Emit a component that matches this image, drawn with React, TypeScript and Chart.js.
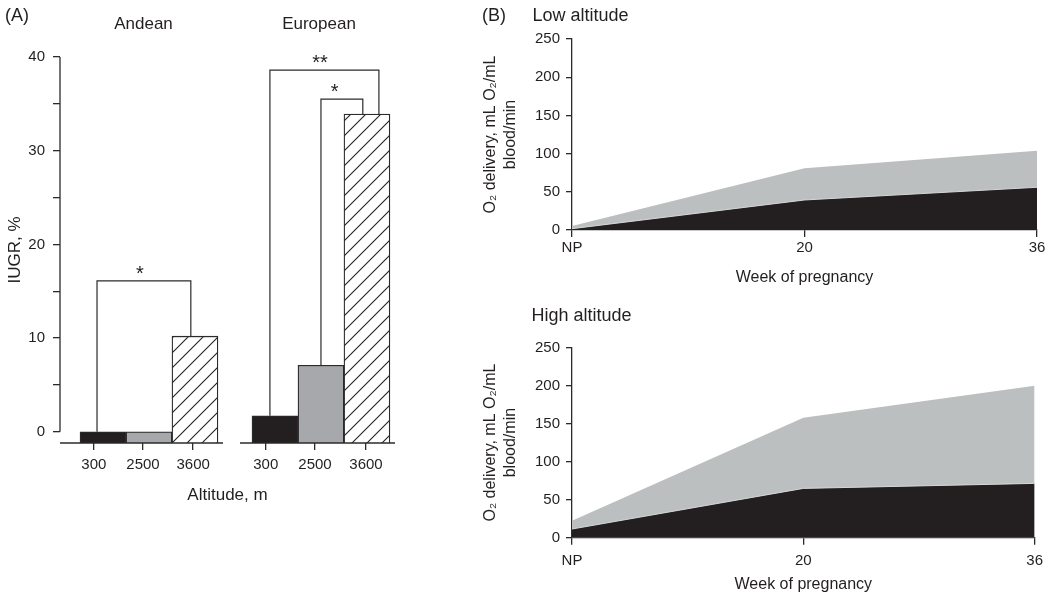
import React, { useEffect, useRef } from 'react';
import { Chart, registerables } from 'chart.js';

Chart.register(...registerables);

const FONT = '"Liberation Sans", Arial, Helvetica, sans-serif';
const TEXT = '#231f20';
const AXIS = '#2b2b2b';
const DARK = '#231f20';
const MID = '#a6a8ab';
const LIGHT = '#bcbfbf';

// ---------- Panel A data ----------
const ALTITUDES = ['300', '2500', '3600'];
const IUGR_ANDEAN = [0, 0, 10.2];
const IUGR_EUROPEAN = [1.7, 7.1, 33.9];
const BAR_POS_ANDEAN = [1, 2, 3];
const BAR_POS_EUROPEAN = [4.74, 5.74, 6.74];
const ALT_TICK_POS = [0.8, 1.87, 2.96, 4.54, 5.61, 6.72];
const ALT_TICK_LABELS = [...ALTITUDES, ...ALTITUDES];
const IUGR_TICKS = [0, 5, 10, 15, 20, 25, 30, 35, 40];
const IUGR_MIN = -1.2;
const IUGR_MAX = 40;
const X_SEGMENTS: [number, number][] = [
  [0.065, 3.61],
  [3.98, 7.35],
];
const BRACKETS = [
  { x1: 0.87, x2: 2.91, from: IUGR_ANDEAN[0], to: IUGR_ANDEAN[2], h: 16.1, label: '*', labelX: 1.8 },
  { x1: 4.63, x2: 7.0, from: IUGR_EUROPEAN[0], to: IUGR_EUROPEAN[2], h: 38.6, label: '**', labelX: 5.72 },
  { x1: 5.74, x2: 6.65, from: IUGR_EUROPEAN[1], to: IUGR_EUROPEAN[2], h: 35.5, label: '*', labelX: 6.04 },
];

// ---------- Panel B data ----------
const WEEKS = ['NP', '20', '36'];
const O2_TICKS_MAX = 250;
const LOW_DARK = [1.7, 39.3, 55.9];
const LOW_LIGHT = [5.2, 80.7, 103.8];
const HIGH_DARK = [11.4, 64.8, 71.4];
const HIGH_LIGHT = [22.3, 157.6, 199.6];

Chart.defaults.font.family = FONT;
Chart.defaults.color = TEXT;

function makeHatch(): CanvasPattern | string {
  const c = document.createElement('canvas');
  c.width = 15;
  c.height = 15;
  const g = c.getContext('2d');
  if (!g) return '#fff';
  g.fillStyle = '#ffffff';
  g.fillRect(0, 0, 15, 15);
  g.strokeStyle = '#222';
  g.lineWidth = 1.1;
  g.beginPath();
  g.moveTo(0, 15);
  g.lineTo(15, 0);
  g.moveTo(-2, 2);
  g.lineTo(2, -2);
  g.moveTo(13, 17);
  g.lineTo(17, 13);
  g.stroke();
  const p = g.createPattern(c, 'repeat');
  return p || '#fff';
}

const panelAPlugin = {
  id: 'panelAExtras',
  afterDatasetsDraw(chart: any) {
    const { ctx, chartArea, scales } = chart;
    const x = scales.x;
    const y = scales.y;
    ctx.save();
    ctx.strokeStyle = AXIS;
    ctx.lineWidth = 1.3;
    // y axis line spanning tick range
    ctx.beginPath();
    ctx.moveTo(chartArea.left, y.getPixelForValue(IUGR_TICKS[0]));
    ctx.lineTo(chartArea.left, y.getPixelForValue(IUGR_TICKS[IUGR_TICKS.length - 1]));
    ctx.stroke();
    // x axis segments
    for (const [a, b] of X_SEGMENTS) {
      ctx.beginPath();
      ctx.moveTo(x.getPixelForValue(a), chartArea.bottom);
      ctx.lineTo(x.getPixelForValue(b), chartArea.bottom);
      ctx.stroke();
    }
    // significance brackets
    ctx.lineWidth = 1.2;
    for (const b of BRACKETS) {
      const xl = x.getPixelForValue(b.x1);
      const xr = x.getPixelForValue(b.x2);
      const yt = y.getPixelForValue(b.h);
      ctx.beginPath();
      ctx.moveTo(xl, y.getPixelForValue(b.from));
      ctx.lineTo(xl, yt);
      ctx.lineTo(xr, yt);
      ctx.lineTo(xr, y.getPixelForValue(b.to));
      ctx.stroke();
      ctx.fillStyle = TEXT;
      ctx.font = `20px ${FONT}`;
      ctx.textAlign = 'center';
      ctx.textBaseline = 'alphabetic';
      ctx.fillText(b.label, x.getPixelForValue(b.labelX), yt - 1);
    }
    ctx.restore();
  },
};

function PanelA() {
  const ref = useRef<HTMLCanvasElement | null>(null);
  useEffect(() => {
    if (!ref.current) return;
    const hatch = makeHatch();
    const positions = [...BAR_POS_ANDEAN, ...BAR_POS_EUROPEAN];
    const values = [...IUGR_ANDEAN, ...IUGR_EUROPEAN];
    const chart = new Chart(ref.current, {
      type: 'bar',
      data: {
        datasets: [
          {
            data: positions.map((p, i) => ({ x: p, y: values[i] })),
            backgroundColor: [DARK, MID, hatch, DARK, MID, hatch] as any,
            borderColor: AXIS,
            borderWidth: 1.3,
            base: IUGR_MIN,
            barPercentage: 1,
            categoryPercentage: 1,
          } as any,
        ],
      },
      options: {
        responsive: false,
        animation: false,
        events: [],
        layout: { padding: { left: 0, top: 57, right: 25, bottom: 0 } },
        plugins: { legend: { display: false }, tooltip: { enabled: false }, title: { display: false } },
        scales: {
          x: {
            type: 'linear',
            min: 0.065,
            max: 7.35,
            offset: false,
            afterBuildTicks: (s: any) => {
              s.ticks = ALT_TICK_POS.map((v) => ({ value: v }));
            },
            afterFit: (s: any) => {
              s.height = 67;
            },
            ticks: {
              autoSkip: false,
              maxRotation: 0,
              padding: 6,
              color: TEXT,
              font: { size: 15 },
              callback: (_v: any, i: number) => ALT_TICK_LABELS[i],
            },
            grid: { offset: false, drawOnChartArea: false, drawTicks: true, tickLength: 7, color: AXIS, lineWidth: 1.3 },
            border: { display: false },
            title: { display: true, text: 'Altitude, m', color: TEXT, font: { size: 17 }, padding: { top: 0, bottom: 4.8 } },
          } as any,
          y: {
            min: IUGR_MIN,
            max: IUGR_MAX,
            afterBuildTicks: (s: any) => {
              s.ticks = IUGR_TICKS.map((v) => ({ value: v }));
            },
            afterFit: (s: any) => {
              s.width = 60;
            },
            ticks: {
              autoSkip: false,
              padding: 8,
              color: TEXT,
              font: { size: 15 },
              callback: (v: any) => (Number(v) % 10 === 0 ? String(v) : ''),
            },
            grid: { drawOnChartArea: false, drawTicks: true, tickLength: 7, color: AXIS, lineWidth: 1.3 },
            border: { display: false },
            title: { display: true, text: 'IUGR, %', color: TEXT, font: { size: 17 }, padding: { top: 5, bottom: 0 } },
          } as any,
        },
      },
      plugins: [panelAPlugin],
    });
    return () => chart.destroy();
  }, []);
  return <canvas ref={ref} width={420} height={510} style={{ position: 'absolute', left: 0, top: 0 }} />;
}

function AreaPanel(props: {
  top: number;
  height: number;
  padTop: number;
  xHeight: number;
  tickPad: number;
  titlePad: number;
  dark: number[];
  light: number[];
}) {
  const ref = useRef<HTMLCanvasElement | null>(null);
  useEffect(() => {
    if (!ref.current) return;
    const chart = new Chart(ref.current, {
      type: 'line',
      data: {
        labels: WEEKS,
        datasets: [
          {
            data: props.dark,
            backgroundColor: DARK,
            borderColor: '#d6d7d8',
            borderWidth: 1,
            fill: 'origin',
            pointRadius: 0,
            tension: 0,
          },
          {
            data: props.light,
            backgroundColor: LIGHT,
            borderColor: LIGHT,
            borderWidth: 0,
            fill: 'origin',
            pointRadius: 0,
            tension: 0,
          },
        ],
      },
      options: {
        responsive: false,
        animation: false,
        events: [],
        layout: { padding: { left: 0, top: props.padTop, right: 13, bottom: 0 } },
        plugins: { legend: { display: false }, tooltip: { enabled: false }, title: { display: false } },
        scales: {
          x: {
            type: 'category',
            offset: false,
            afterFit: (s: any) => {
              s.height = props.xHeight;
            },
            ticks: { maxRotation: 0, padding: props.tickPad, color: TEXT, font: { size: 15 } },
            grid: { offset: false, drawOnChartArea: false, drawTicks: true, tickLength: 7, color: AXIS, lineWidth: 1.3 },
            border: { display: true, color: AXIS, width: 1.3 },
            title: {
              display: true,
              text: 'Week of pregnancy',
              color: TEXT,
              font: { size: 16 },
              padding: { top: 0, bottom: props.titlePad },
            },
          } as any,
          y: {
            min: 0,
            max: O2_TICKS_MAX,
            afterFit: (s: any) => {
              s.width = 92;
            },
            ticks: { stepSize: 50, padding: 6, color: TEXT, font: { size: 15 } },
            grid: { drawOnChartArea: false, drawTicks: true, tickLength: 6, color: AXIS, lineWidth: 1.3 },
            border: { display: true, color: AXIS, width: 1.3 },
            title: {
              display: true,
              text: ['O₂ delivery, mL O₂/mL', 'blood/min'],
              color: TEXT,
              font: { size: 16 },
              padding: { top: 1.4, bottom: 0 },
            },
          } as any,
        },
      },
    });
    return () => chart.destroy();
  }, []);
  return (
    <canvas
      ref={ref}
      width={570}
      height={props.height}
      style={{ position: 'absolute', left: 480, top: props.top }}
    />
  );
}

function Label(props: { text: string; x: number; cy: number; size: number; center?: boolean }) {
  return (
    <div
      style={{
        position: 'absolute',
        left: props.x,
        top: props.cy - props.size / 2,
        fontSize: props.size,
        lineHeight: `${props.size}px`,
        fontFamily: FONT,
        color: TEXT,
        whiteSpace: 'nowrap',
        transform: props.center ? 'translateX(-50%)' : undefined,
      }}
    >
      {props.text}
    </div>
  );
}

export default function App() {
  return (
    <div style={{ position: 'absolute', left: 0, top: 0, width: 1050, height: 600, background: '#fff', overflow: 'hidden' }}>
      <PanelA />
      <AreaPanel top={0} height={290} padTop={39} xHeight={60} tickPad={2} titlePad={2.4} dark={LOW_DARK} light={LOW_LIGHT} />
      <AreaPanel top={290} height={310} padTop={57.5} xHeight={62.3} tickPad={7} titlePad={5.4} dark={HIGH_DARK} light={HIGH_LIGHT} />
      <Label text="(A)" x={5} cy={14.5} size={18} />
      <Label text="Andean" x={143.5} cy={23.5} size={17} center />
      <Label text="European" x={319} cy={23.5} size={17} center />
      <Label text="(B)" x={482} cy={15} size={18} />
      <Label text="Low altitude" x={532.5} cy={14.5} size={18} />
      <Label text="High altitude" x={531.5} cy={315} size={18} />
    </div>
  );
}
